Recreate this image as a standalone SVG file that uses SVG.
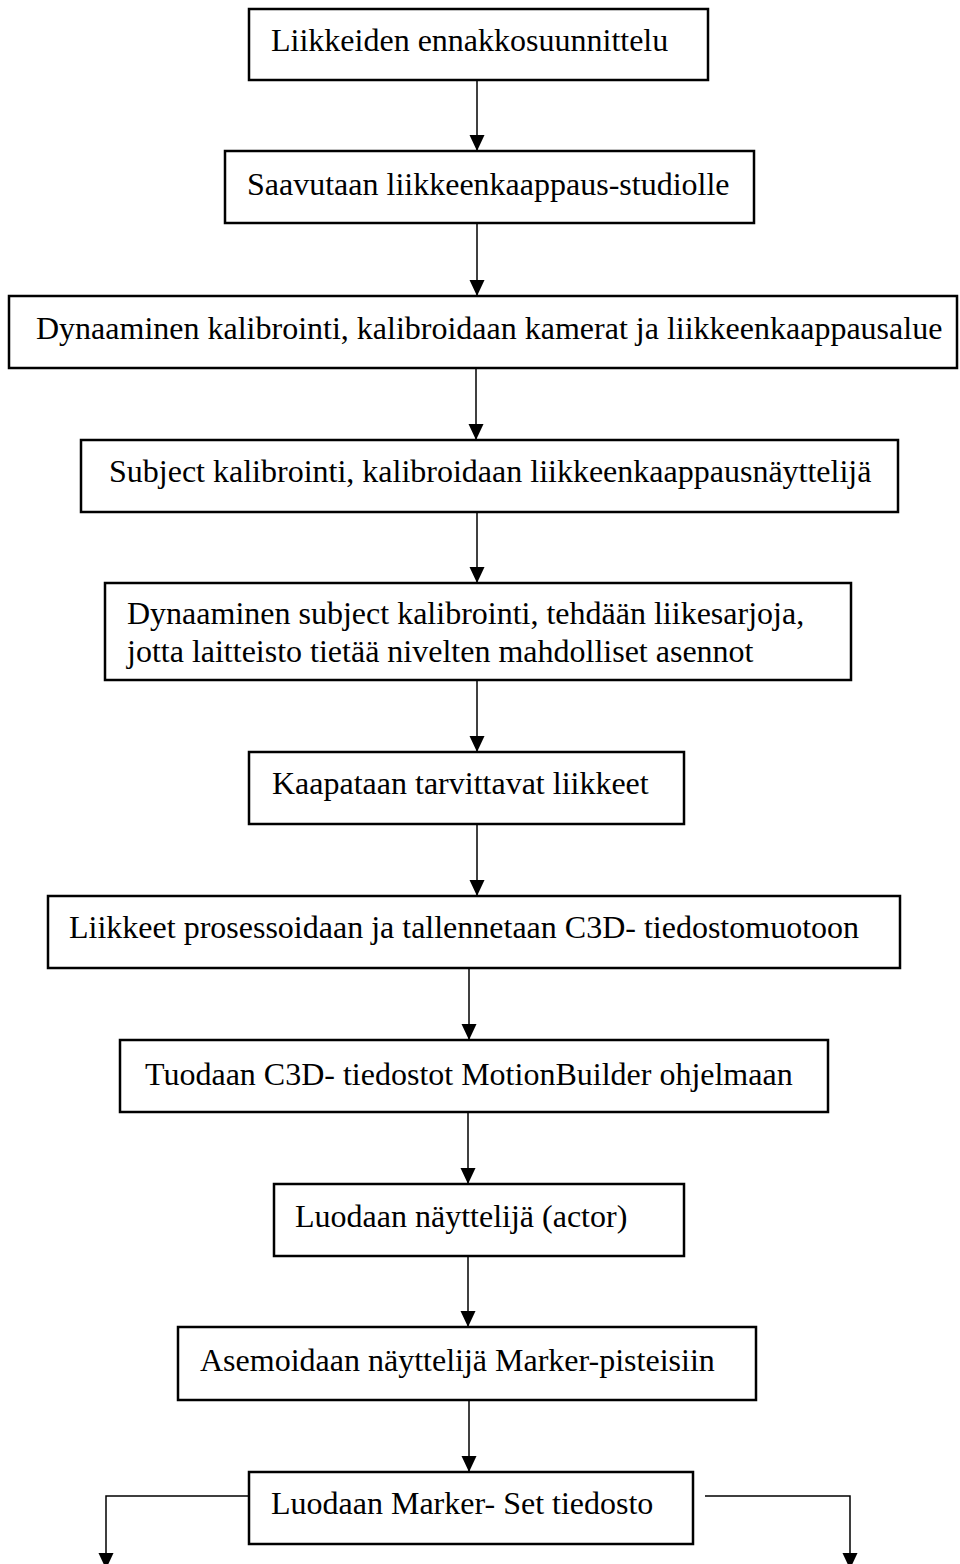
<svg xmlns="http://www.w3.org/2000/svg" width="960" height="1564" viewBox="0 0 960 1564">
<style>
.box{fill:#fff;stroke:#000;stroke-width:2.5}
.t{font-family:"Liberation Serif","Times New Roman",serif;font-size:32px;fill:#000}
.c{fill:none;stroke:#000;stroke-width:1.5}
</style>
<defs>
<marker id="ah" markerUnits="userSpaceOnUse" markerWidth="16" markerHeight="16" refX="16" refY="7.5" orient="auto">
<path d="M0,0 L16,7.5 L0,15 z" fill="#000"/>
</marker>
</defs>
<rect width="960" height="1564" fill="#fff"/>
<g id="connectors">
<line class="c" x1="477" y1="80" x2="477" y2="151" marker-end="url(#ah)"/>
<line class="c" x1="477" y1="223" x2="477" y2="296" marker-end="url(#ah)"/>
<line class="c" x1="476" y1="368" x2="476" y2="440" marker-end="url(#ah)"/>
<line class="c" x1="477" y1="512" x2="477" y2="583" marker-end="url(#ah)"/>
<line class="c" x1="477" y1="680" x2="477" y2="752" marker-end="url(#ah)"/>
<line class="c" x1="477" y1="824" x2="477" y2="896" marker-end="url(#ah)"/>
<line class="c" x1="469" y1="968" x2="469" y2="1040" marker-end="url(#ah)"/>
<line class="c" x1="468" y1="1112" x2="468" y2="1184" marker-end="url(#ah)"/>
<line class="c" x1="468" y1="1256" x2="468" y2="1327" marker-end="url(#ah)"/>
<line class="c" x1="469" y1="1400" x2="469" y2="1472" marker-end="url(#ah)"/>
<polyline class="c" points="249,1496 106,1496 106,1569" marker-end="url(#ah)"/>
<polyline class="c" points="705,1496 850,1496 850,1569" marker-end="url(#ah)"/>
</g>
<g id="n1"><rect class="box" x="249" y="9" width="459" height="71"/><text class="t" x="271" y="51">Liikkeiden ennakkosuunnittelu</text></g>
<g id="n2"><rect class="box" x="225" y="151" width="529" height="72"/><text class="t" x="247" y="195">Saavutaan liikkeenkaappaus-studiolle</text></g>
<g id="n3"><rect class="box" x="9" y="296" width="948" height="72"/><text class="t" x="36" y="339">Dynaaminen kalibrointi, kalibroidaan kamerat ja liikkeenkaappausalue</text></g>
<g id="n4"><rect class="box" x="81" y="440" width="817" height="72"/><text class="t" x="109" y="482">Subject kalibrointi, kalibroidaan liikkeenkaappausnäyttelijä</text></g>
<g id="n5"><rect class="box" x="105" y="583" width="746" height="97"/><text class="t" x="127" y="624">Dynaaminen subject kalibrointi, tehdään liikesarjoja,</text><text class="t" x="127" y="662">jotta laitteisto tietää nivelten mahdolliset asennot</text></g>
<g id="n6"><rect class="box" x="249" y="752" width="435" height="72"/><text class="t" x="272" y="794">Kaapataan tarvittavat liikkeet</text></g>
<g id="n7"><rect class="box" x="48" y="896" width="852" height="72"/><text class="t" x="69" y="938">Liikkeet prosessoidaan ja tallennetaan C3D- tiedostomuotoon</text></g>
<g id="n8"><rect class="box" x="120" y="1040" width="708" height="72"/><text class="t" x="145" y="1085">Tuodaan C3D- tiedostot MotionBuilder ohjelmaan</text></g>
<g id="n9"><rect class="box" x="274" y="1184" width="410" height="72"/><text class="t" x="295" y="1227">Luodaan näyttelijä (actor)</text></g>
<g id="n10"><rect class="box" x="178" y="1327" width="578" height="73"/><text class="t" x="200" y="1371">Asemoidaan näyttelijä Marker-pisteisiin</text></g>
<g id="n11"><rect class="box" x="249" y="1472" width="444" height="72"/><text class="t" x="271" y="1514">Luodaan Marker- Set tiedosto</text></g>
</svg>
